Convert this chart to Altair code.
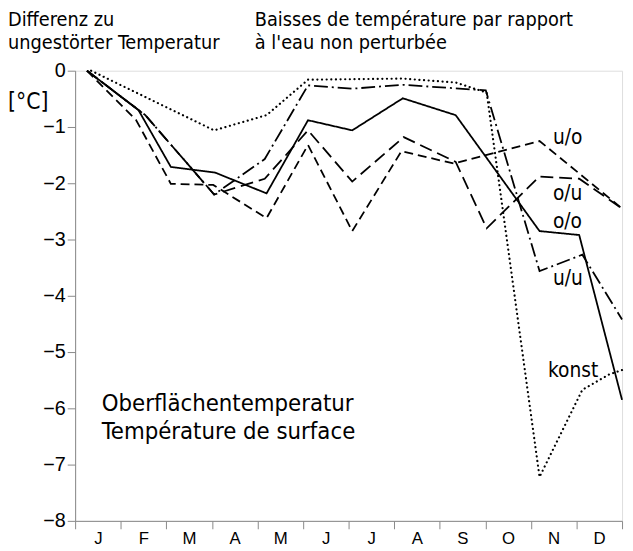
import altair as alt
import pandas as pd

# ---- data (x in month units, 0 = start of January) ----
months = ["J", "F", "M", "A", "M", "J", "J", "A", "S", "O", "N", "D"]

oo_x = [0.26, 1.39, 2.10, 3.07, 4.20, 5.11, 6.08, 7.19, 8.35, 10.19, 11.06, 12.0]
oo_v = [0.0, -0.70, -1.71, -1.81, -2.18, -0.88, -1.06, -0.49, -0.79, -2.85, -2.92, -5.85]

uo_x = [0.26, 1.34, 2.10, 3.03, 4.20, 5.11, 6.08, 7.16, 8.31, 10.19, 12.0]
uo_v = [0.0, -0.88, -2.01, -2.03, -2.62, -1.32, -2.85, -1.43, -1.65, -1.25, -2.45]

ou_x = [0.26, 1.54, 3.05, 4.16, 5.11, 6.08, 7.21, 8.35, 9.03, 10.19, 11.06, 12.0]
ou_v = [0.0, -0.79, -2.20, -1.92, -1.06, -1.97, -1.18, -1.62, -2.80, -1.88, -1.92, -2.45]

uu_x = [0.26, 1.54, 3.05, 4.16, 5.11, 6.08, 7.19, 9.01, 10.19, 11.13, 12.0]
uu_v = [0.0, -0.79, -2.20, -1.57, -0.26, -0.32, -0.25, -0.35, -3.56, -3.27, -4.42]

ko_x = [0.35, 3.05, 4.20, 5.11, 7.19, 8.35, 9.03, 10.19, 11.13, 11.71, 12.0]
ko_v = [0.0, -1.06, -0.79, -0.16, -0.14, -0.21, -0.39, -7.22, -5.67, -5.40, -5.32]

series_names = ["o/o", "u/o", "o/u", "u/u"]
series_x = [oo_x, uo_x, ou_x, uu_x]
series_v = [oo_v, uo_v, ou_v, uu_v]

rows = []
for name, xs, vs in zip(series_names, series_x, series_v):
    for i, (x, v) in enumerate(zip(xs, vs)):
        rows.append({"series": name, "m": x, "v": v, "order": i})
df = pd.DataFrame(rows)
df_k = pd.DataFrame({"series": "konst", "m": ko_x, "v": ko_v, "order": range(len(ko_x))})

FONT = "Liberation Sans Narrow, DejaVu Sans Condensed, Liberation Sans, sans-serif"
W, H = 554, 456

xscale = alt.Scale(domain=[0, 12], nice=False, zero=False)
yscale = alt.Scale(domain=[-8, 0], nice=False, zero=False)

label_expr = "[" + ",".join("'" + m + "'" for m in months) + ",''][datum.value]"

xaxis = alt.Axis(values=list(range(13)), labelExpr=label_expr, labelOffset=23,
                 labelFlush=False, labelOverlap=False, title=None, grid=False,
                 tickSize=8, labelPadding=2, labelFontSize=17)
yaxis = alt.Axis(values=list(range(-8, 1)), format="d", title=None, grid=False, tickSize=8,
                 labelPadding=2, labelFontSize=20, labelOverlap=False, labelFlush=False)

lines = alt.Chart(df).mark_line(color="black", strokeWidth=1.8).encode(
    x=alt.X("m:Q", scale=xscale, axis=xaxis),
    y=alt.Y("v:Q", scale=yscale, axis=yaxis),
    detail="series:N",
    order="order:Q",
    strokeDash=alt.StrokeDash("series:N", legend=None,
                              scale=alt.Scale(domain=series_names,
                                              range=[[1, 0], [9, 5], [13, 6], [14, 4, 2, 4]])),
)

konst = alt.Chart(df_k).mark_line(color="black", strokeWidth=2.2, strokeDash=[0.1, 4.6],
                                  strokeCap="round").encode(
    x=alt.X("m:Q", scale=xscale),
    y=alt.Y("v:Q", scale=yscale),
    order="order:Q",
)


def label(text, x, y, size=20, align="left"):
    return alt.Chart(pd.DataFrame({"t": [text]})).mark_text(
        font=FONT, fontSize=size, align=align, baseline="alphabetic", color="black"
    ).encode(x=alt.value(x), y=alt.value(y), text="t:N")


texts = [
    label("Differenz zu", -68, -45, size=20),
    label("ungestörter Temperatur", -68, -22, size=20),
    label("Baisses de température par rapport", 182, -45, size=20),
    label("à l'eau non perturbée", 182, -22, size=20),
    label("[°C]", -68, 39, size=23),
    label("Oberflächentemperatur", 27, 345, size=24),
    label("Température de surface", 27, 373, size=24),
    label("u/o", 484, 74, size=21),
    label("o/u", 484, 131, size=21),
    label("o/o", 484, 159, size=21),
    label("u/u", 484, 217, size=21),
    label("konst", 479, 310, size=21),
]

chart = alt.layer(lines, konst, *texts).properties(
    width=W, height=H,
    autosize=alt.AutoSizeParams(type="none"),
    padding={"left": 68, "top": 60, "right": 3, "bottom": 27},
).configure_view(
    stroke="black", strokeWidth=1.5
).configure_axis(
    domainColor="black", domainWidth=2, tickColor="black", tickWidth=1.5,
    labelColor="black", labelFont=FONT,
).configure(background="white")

chart.save("out.html", embed_options={"renderer": "svg", "actions": False})
